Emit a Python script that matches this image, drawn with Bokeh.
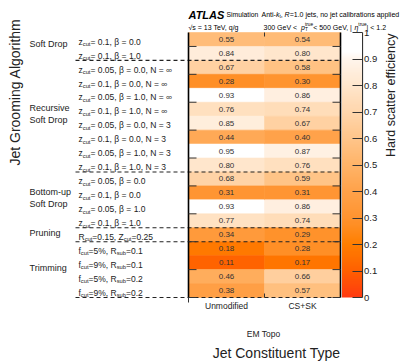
import math
from bokeh.plotting import figure
from bokeh.models import (ColumnDataSource, LinearColorMapper, ColorBar, FixedTicker,
                          NumeralTickFormatter, Label, Range1d)
from bokeh.core.properties import value
from bokeh.embed import file_html
from bokeh.resources import INLINE

# ---------------- data ----------------
constituent_types = ["Unmodified", "CS+SK"]
grooming_configs = [
    "z_{cut} = 0.1, β = 0.0",
    "z_{cut} = 0.1, β = 1.0",
    "z_{cut} = 0.05, β = 0.0, N = ∞",
    "z_{cut} = 0.1, β = 0.0, N = ∞",
    "z_{cut} = 0.05, β = 1.0, N = ∞",
    "z_{cut} = 0.1, β = 1.0, N = ∞",
    "z_{cut} = 0.05, β = 0.0, N = 3",
    "z_{cut} = 0.1, β = 0.0, N = 3",
    "z_{cut} = 0.05, β = 1.0, N = 3",
    "z_{cut} = 0.1, β = 1.0, N = 3",
    "z_{cut} = 0.05, β = 0.0",
    "z_{cut} = 0.1, β = 0.0",
    "z_{cut} = 0.05, β = 1.0",
    "z_{cut} = 0.1, β = 1.0",
    "R_{cut}=0.15, Z_{cut}=0.25",
    "f_{cut}=5%, R_{sub}=0.1",
    "f_{cut}=9%, R_{sub}=0.1",
    "f_{cut}=5%, R_{sub}=0.2",
    "f_{cut}=9%, R_{sub}=0.2",
]
eff_unmodified = [0.55, 0.84, 0.67, 0.28, 0.93, 0.76, 0.85, 0.44, 0.95, 0.80,
                  0.68, 0.31, 0.93, 0.77, 0.34, 0.18, 0.11, 0.46, 0.38]
eff_cssk = [0.54, 0.80, 0.58, 0.30, 0.86, 0.74, 0.67, 0.40, 0.87, 0.76,
            0.59, 0.31, 0.86, 0.74, 0.29, 0.28, 0.17, 0.66, 0.57]
algorithm_groups = [(["Soft Drop"], 0, 2),
                    (["Recursive", "Soft Drop"], 2, 10),
                    (["Bottom-up", "Soft Drop"], 10, 14),
                    (["Pruning"], 14, 15),
                    (["Trimming"], 15, 19)]
colorbar_ticks = [0, 0.1, 0.2, 0.3, 0.4, 0.5, 0.6, 0.7, 0.8, 0.9, 1.0]
x_title = "Jet Constituent Type"
x_subtitle = "EM Topo"
y_title = "Jet Grooming Algorithm"
z_title = "Hard scatter efficiency"

# ---------------- colour map ----------------
stops = [(0.0, "#ff3a10"), (0.1, "#ff6000"), (0.2, "#ff7f00"), (0.3, "#ff9430"),
         (0.4, "#ffa24a"), (0.5, "#ffb468"), (0.6, "#ffc58a"), (0.7, "#ffd6ac"),
         (0.8, "#ffe6cc"), (0.9, "#fff5ec"), (0.93, "#ffffff"), (1.0, "#ffffff")]


def hex2rgb(h):
    return [int(h[i:i + 2], 16) for i in (1, 3, 5)]


palette = []
NCOL = 256
for k in range(NCOL):
    t = k / (NCOL - 1)
    for (a, ca), (b, cb_) in zip(stops[:-1], stops[1:]):
        if a <= t <= b:
            f = (t - a) / (b - a) if b > a else 0
            r1, r2 = hex2rgb(ca), hex2rgb(cb_)
            palette.append("#%02x%02x%02x" % tuple(round(r1[j] + f * (r2[j] - r1[j])) for j in range(3)))
            break

# ---------------- text helpers ----------------
W = {' ': 278, '!': 278, '%': 889, '(': 333, ')': 333, '+': 584, ',': 278, '-': 333, '.': 278,
     '/': 278, '<': 584, '=': 584, '>': 584, '|': 260, 'β': 575, '∞': 713, 'η': 556, '√': 549,
     'A': 667, 'B': 667, 'C': 722, 'D': 722, 'E': 667, 'F': 611, 'G': 778, 'H': 722, 'I': 278,
     'J': 500, 'K': 667, 'L': 556, 'M': 833, 'N': 722, 'O': 778, 'P': 667, 'Q': 778, 'R': 722,
     'S': 667, 'T': 611, 'U': 722, 'V': 667, 'W': 944, 'X': 667, 'Y': 667, 'Z': 611,
     'a': 556, 'b': 556, 'c': 500, 'd': 556, 'e': 556, 'f': 278, 'g': 556, 'h': 556, 'i': 222,
     'j': 222, 'k': 500, 'l': 222, 'm': 833, 'n': 556, 'o': 556, 'p': 556, 'q': 556, 'r': 333,
     's': 500, 't': 278, 'u': 556, 'v': 500, 'w': 722, 'x': 500, 'y': 500, 'z': 500}


def twidth(s, size):
    return sum(W.get(c, 556) for c in s) / 1000.0 * size


def parse(s):
    segs, buf, i = [], "", 0
    while i < len(s):
        if s[i] in "_^" and i + 1 < len(s) and s[i + 1] == "{":
            if buf:
                segs.append((buf, "n", "normal"))
                buf = ""
            j = s.index("}", i)
            segs.append((s[i + 2:j], "sub" if s[i] == "_" else "sup", "normal"))
            i = j + 1
        else:
            buf += s[i]
            i += 1
    if buf:
        segs.append((buf, "n", "normal"))
    return segs


def lay(segs, x0, fs):
    out, x, pk, pw = [], x0, None, 0.0
    for text, kind, style in segs:
        size = fs if kind == "n" else fs * 0.68
        w = twidth(text, size)
        shift = 0.0 if kind == "n" else (0.3 * fs if kind == "sub" else -0.42 * fs)
        if kind in ("sub", "sup") and pk in ("sub", "sup") and pk != kind:
            xs = x - pw
            out.append((text, xs, shift, size, style))
            x = xs + max(pw, w)
        else:
            out.append((text, x, shift, size, style))
            x += w
        pk, pw = kind, w
    return out


# ---------------- geometry (page pixels -> data) ----------------
FW, FH = 406, 363
nrows = len(grooming_configs)
X0, X2 = 188.0, 340.0      # page x of heat-map left / right edge
Y0, Y1 = 32.0, 297.0       # page y of heat-map top / bottom edge
PX = (X2 - X0) / 2
PY = (Y1 - Y0) / nrows


def dx(px):
    return (px - X0) / PX


def dy(py):
    return (py - Y0) / PY


FONT = "Liberation Sans"

p = figure(width=FW, height=FH, x_range=Range1d(dx(0), dx(FW)),
           y_range=Range1d(dy(FH), dy(0)),
           output_backend="svg", toolbar_location=None,
           min_border_left=0, min_border_right=0, min_border_top=0, min_border_bottom=0)
p.outline_line_color = None
p.grid.visible = False
p.axis.visible = False
p.background_fill_color = "white"
p.border_fill_color = "white"

mapper = LinearColorMapper(palette=palette, low=0, high=1)

# heat map cells
xs, ys, vs, ts = [], [], [], []
for ci, vals in enumerate([eff_unmodified, eff_cssk]):
    for ri, v in enumerate(vals):
        xs.append(ci + 0.5)
        ys.append(ri + 0.5)
        vs.append(v)
        ts.append("%.2f" % v)
src = ColumnDataSource(dict(x=xs, y=ys, v=vs, t=ts))
p.rect(x="x", y="y", width=1, height=1, source=src,
       fill_color={"field": "v", "transform": mapper},
       line_color={"field": "v", "transform": mapper}, line_width=0.6)
p.text(x="x", y="y", text="t", source=src, text_align="center", text_baseline="middle",
       text_font=value(FONT), text_font_size="8px", text_color="#333333")

# column labels (x axis)
p.text(x=[0.5, 1.5], y=[dy(305.5)] * 2, text=constituent_types, text_align="center",
       text_baseline="middle", text_font=value(FONT), text_font_size="8.5px", text_color="#222222")

# row labels with subscripts
lx, ly, lt, lf = [], [], [], []
for ri, cfg in enumerate(grooming_configs):
    for text, xpage, shift, size, style in lay(parse(cfg), 78, 8.5):
        lx.append(dx(xpage))
        ly.append(ri + 0.5 + (2.2 + shift) / PY)
        lt.append(text)
        lf.append("%.2fpx" % size)
p.text(x="x", y="y", text="t", source=ColumnDataSource(dict(x=lx, y=ly, t=lt, f=lf)),
       text_align="left", text_baseline="alphabetic", text_font=value(FONT),
       text_font_size={"field": "f"}, text_color="#222222")

# group separators
breaks = [g[2] for g in algorithm_groups]
p.segment(x0=[dx(75)] * len(breaks), x1=[2] * len(breaks), y0=breaks, y1=breaks,
          line_color="#222222", line_width=1.1, line_dash="4 3")

# heat map side borders and ticks
p.segment(x0=[0, 2], x1=[0, 2], y0=[0, 0], y1=[nrows, nrows], line_color="black", line_width=1.6)
odd = list(range(1, nrows + 1, 2))
p.segment(x0=[0] * len(odd), x1=[8 / PX] * len(odd), y0=odd, y1=odd, line_color="#333333", line_width=1)
p.segment(x0=[2] * len(odd), x1=[2 - 8 / PX] * len(odd), y0=odd, y1=odd, line_color="#333333", line_width=1)
p.segment(x0=[1, 1, 0], x1=[1, 1, 0], y0=[0, nrows, nrows], y1=[4 / PY, nrows - 4 / PY, nrows + 5 / PY],
          line_color="#333333", line_width=1)

# colour bar (frame covers the whole canvas; location in px from bottom-left)
CB_X0, CB_X1 = 341.5, 362.0
cb = ColorBar(color_mapper=mapper, location=(CB_X0, FH - Y1), width=int(CB_X1 - CB_X0), height=int(Y1 - Y0),
              padding=0, margin=0, ticker=FixedTicker(ticks=colorbar_ticks),
              formatter=NumeralTickFormatter(format="0.[0]"),
              major_label_text_font=FONT, major_label_text_font_size="9.5px",
              major_label_text_color="#222222", major_tick_in=10, major_tick_out=0,
              major_tick_line_color="#333333", major_tick_line_width=1.2,
              bar_line_color=None, label_standoff=2,
              background_fill_color=None, border_line_color=None)
p.add_layout(cb)
# colour-bar axis line
p.segment(x0=[dx(CB_X1)], x1=[dx(CB_X1)], y0=[0], y1=[nrows], line_color="#333333", line_width=1.2)


def add_label(text, xpage, ypage, size, align="left", baseline="alphabetic", angle=0,
              style="normal", color="#222222"):
    p.add_layout(Label(x=dx(xpage), y=dy(ypage), text=text, text_font=FONT,
                       text_font_size="%.2fpx" % size, text_align=align, text_baseline=baseline,
                       angle=angle, text_font_style=style, text_color=color))


def add_rich(segs, xpage, ybase, fs, color="#222222"):
    for text, xp, shift, size, style in lay(segs, xpage, fs):
        add_label(text, xp, ybase + shift, size, style=style, color=color)


# group labels
for lines, a, b in algorithm_groups:
    yc = Y0 + (a + b) / 2 * PY - 2
    n = len(lines)
    for k, t in enumerate(lines):
        add_label(t, 29, yc + (k - (n - 1) / 2) * 12.5, 9, baseline="middle")

# axis titles
add_label(y_title, 14, 18, 14, align="right", baseline="middle", angle=math.pi / 2)
add_label(z_title, 390, 33, 12.5, align="right", baseline="middle", angle=math.pi / 2)
add_label(x_subtitle, 263, 333, 8.5, align="center", baseline="middle")
add_label(x_title, 276, 352, 14, align="center", baseline="middle")

# header
add_label("ATLAS", 188, 14, 11, style="bold italic", color="black")
add_label("Simulation", 226, 14, 6.8, color="black")
add_rich([("Anti-", "n", "normal"), ("k", "n", "italic"), ("t", "sub", "normal"), (", ", "n", "normal"),
          ("R", "n", "italic"), ("=1.0 jets, no jet calibrations applied", "n", "normal")],
         261, 14, 7, color="black")
add_rich([("√s = 13 TeV, q/g", "n", "normal")], 188, 26.5, 7, color="black")
add_rich([("300 GeV <  ", "n", "normal"), ("p", "n", "italic"), ("T", "sub", "normal"),
          ("true", "sup", "normal"), (" < 500 GeV, |", "n", "normal"), ("η", "n", "italic"),
          ("true", "sup", "normal"), ("| < 1.2", "n", "normal")], 263, 26.5, 7, color="black")

open("out.html", "w").write(file_html(p, INLINE))
